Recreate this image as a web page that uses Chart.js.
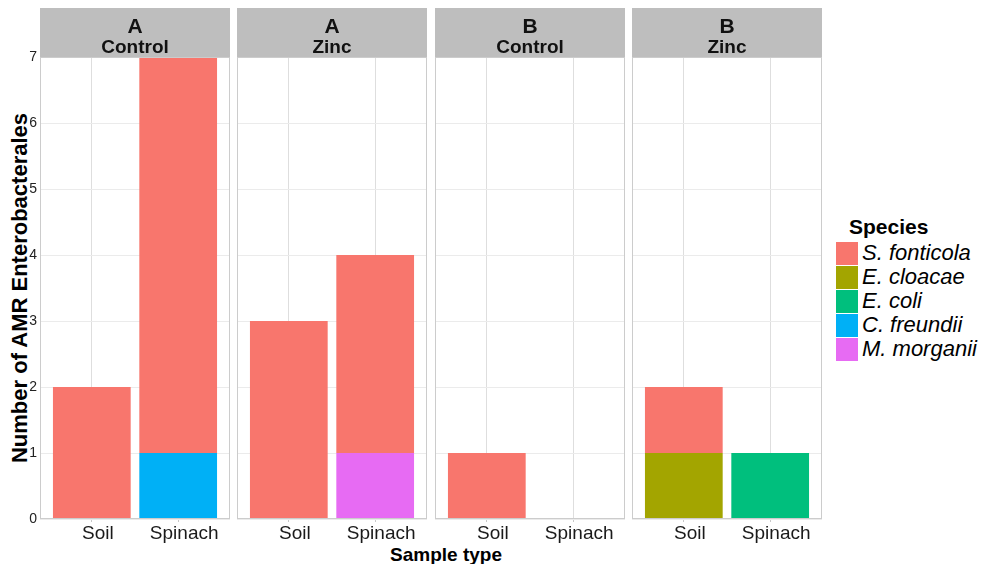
<!DOCTYPE html>
<html>
<head>
<meta charset="utf-8">
<title>AMR Enterobacterales by sample type</title>
<script src="https://cdn.jsdelivr.net/npm/chart.js@4.4.1/dist/chart.umd.min.js"></script>
<style>
  html, body { margin: 0; padding: 0; background: #ffffff; }
  #wrap { position: relative; width: 986px; height: 564px; overflow: hidden;
          font-family: "Liberation Sans", Arial, sans-serif; color: #000; }
  #wrap canvas { position: absolute; }
  .ytitle { position: absolute; left: 20px; top: 288px; white-space: nowrap;
            font-weight: bold; font-size: 22px; line-height: 22px;
            transform: translate(-50%, -50%) rotate(-90deg); }
  .xtitle { position: absolute; left: 446px; top: 545px; white-space: nowrap;
            font-weight: bold; font-size: 19px; line-height: 19px;
            transform: translateX(-50%); }
  .legend-title { position: absolute; left: 849px; top: 216px; font-weight: bold;
                  font-size: 21px; line-height: 21px; white-space: nowrap; }
  .legend-key { position: absolute; left: 836px; width: 22px; height: 23px; }
  .legend-label { position: absolute; left: 862px; font-style: italic; font-size: 22px;
                  line-height: 23px; white-space: nowrap; }
</style>
</head>
<body>
<div id="wrap">
  <div class="ytitle">Number of AMR Enterobacterales</div>
  <div class="xtitle">Sample type</div>
  <div class="legend-title">Species</div>
</div>
<script>
// Sample types on the x axis of every panel
const CATEGORIES = ['Soil', 'Spinach'];
// Facet strips: site on the first line, treatment on the second
const SITES = ['A', 'A', 'B', 'B'];
const TREATMENTS = ['Control', 'Zinc', 'Control', 'Zinc'];
const Y_TICKS = [0, 1, 2, 3, 4, 5, 6, 7];

const SPECIES = ['S. fonticola', 'E. cloacae', 'E. coli', 'C. freundii', 'M. morganii'];
const SPECIES_COLORS = ['#F8766D', '#A3A500', '#00BF7D', '#00B0F6', '#E76BF3'];

// Isolate counts per panel, as [Soil, Spinach]
const S_FONTICOLA = [[2, 6], [3, 3], [1, 0], [1, 0]];
const E_CLOACAE   = [[0, 0], [0, 0], [0, 0], [1, 0]];
const E_COLI      = [[0, 0], [0, 0], [0, 0], [0, 1]];
const C_FREUNDII  = [[0, 1], [0, 0], [0, 0], [0, 0]];
const M_MORGANII  = [[0, 0], [0, 1], [0, 0], [0, 0]];
const SPECIES_COUNTS = [S_FONTICOLA, E_CLOACAE, E_COLI, C_FREUNDII, M_MORGANII];

// Panel geometry
const PANEL_LEFT = [40, 237, 435, 632];
const PANEL_W = 190;
const Y_AXIS_W = 40;
const CANVAS_TOP = 8;
const STRIP_H = 49;
const CANVAS_H = 556;
const X_AXIS_H = 45;

Chart.defaults.font.family = '"Liberation Sans", Arial, sans-serif';

const wrap = document.getElementById('wrap');

// Legend
SPECIES.forEach((name, i) => {
  const top = 242 + i * 24;
  const key = document.createElement('div');
  key.className = 'legend-key';
  key.style.top = top + 'px';
  key.style.background = SPECIES_COLORS[i];
  wrap.appendChild(key);
  const lab = document.createElement('div');
  lab.className = 'legend-label';
  lab.style.top = (top - 1) + 'px';
  lab.textContent = name;
  wrap.appendChild(lab);
});

// Grey facet strip above the plot area and a thin border around it
const panelDecor = {
  id: 'panelDecor',
  beforeDraw(chart, args, opts) {
    const { ctx, chartArea: ca } = chart;
    ctx.save();
    ctx.fillStyle = '#bebebe';
    ctx.fillRect(ca.left, ca.top - STRIP_H, ca.width, STRIP_H);
    ctx.fillStyle = '#111111';
    ctx.textAlign = 'center';
    ctx.textBaseline = 'alphabetic';
    const cx = ca.left + ca.width / 2;
    ctx.font = 'bold 21px "Liberation Sans", Arial, sans-serif';
    ctx.fillText(opts.site, cx, ca.top - 24);
    ctx.font = 'bold 19px "Liberation Sans", Arial, sans-serif';
    ctx.fillText(opts.treatment, cx, ca.top - 4);
    ctx.restore();
  },
  afterDatasetsDraw(chart) {
    const { ctx, chartArea: ca } = chart;
    ctx.save();
    ctx.strokeStyle = '#cccccc';
    ctx.lineWidth = 1;
    ctx.strokeRect(ca.left + 0.5, ca.top + 0.5, ca.width - 1, ca.height - 1);
    ctx.restore();
  }
};

PANEL_LEFT.forEach((left, p) => {
  const first = p === 0;
  const canvas = document.createElement('canvas');
  const cw = PANEL_W + (first ? Y_AXIS_W : 0);
  canvas.width = cw;
  canvas.height = CANVAS_H;
  canvas.style.left = (left - (first ? Y_AXIS_W : 0)) + 'px';
  canvas.style.top = CANVAS_TOP + 'px';
  canvas.style.width = cw + 'px';
  canvas.style.height = CANVAS_H + 'px';
  wrap.appendChild(canvas);

  // stacked bottom to top: last species first, S. fonticola on top
  const datasets = SPECIES.map((name, s) => ({
    label: name,
    backgroundColor: SPECIES_COLORS[s],
    borderWidth: 0,
    data: CATEGORIES.map((c, j) => ({ x: j + 1, y: SPECIES_COUNTS[s][p][j] }))
  })).reverse();

  new Chart(canvas, {
    type: 'bar',
    data: { datasets },
    options: {
      responsive: false,
      animation: false,
      devicePixelRatio: 1,
      categoryPercentage: 0.9,
      barPercentage: 1.0,
      layout: { padding: { top: STRIP_H, left: 0, right: 0, bottom: 0 } },
      plugins: {
        legend: { display: false },
        tooltip: { enabled: false },
        panelDecor: { site: SITES[p], treatment: TREATMENTS[p] }
      },
      scales: {
        x: {
          type: 'linear',
          stacked: true,
          offset: false,
          min: 0.4,
          max: 2.6,
          afterBuildTicks: s => { s.ticks = CATEGORIES.map((c, j) => ({ value: j + 1 })); },
          afterFit: s => { s.height = X_AXIS_H; },
          border: { display: false },
          grid: { offset: false, color: '#dedede', lineWidth: 1, drawTicks: true, tickLength: 3, tickColor: '#c8c8c8' },
          ticks: {
            callback: v => CATEGORIES[Math.round(v) - 1],
            font: { size: 19 },
            color: '#1a1a1a',
            padding: 0,
            labelOffset: 6,
            maxRotation: 0,
            autoSkip: false
          }
        },
        y: {
          stacked: true,
          min: 0,
          max: 7,
          afterBuildTicks: s => { s.ticks = Y_TICKS.map(v => ({ value: v })); },
          afterFit: s => { s.width = first ? Y_AXIS_W : 0; },
          border: { display: false },
          grid: { color: '#ebebeb', lineWidth: 1, drawTicks: false },
          ticks: {
            display: first,
            font: { size: 14 },
            color: '#222222',
            padding: 3
          }
        }
      }
    },
    plugins: [panelDecor]
  });
});
</script>
</body>
</html>
